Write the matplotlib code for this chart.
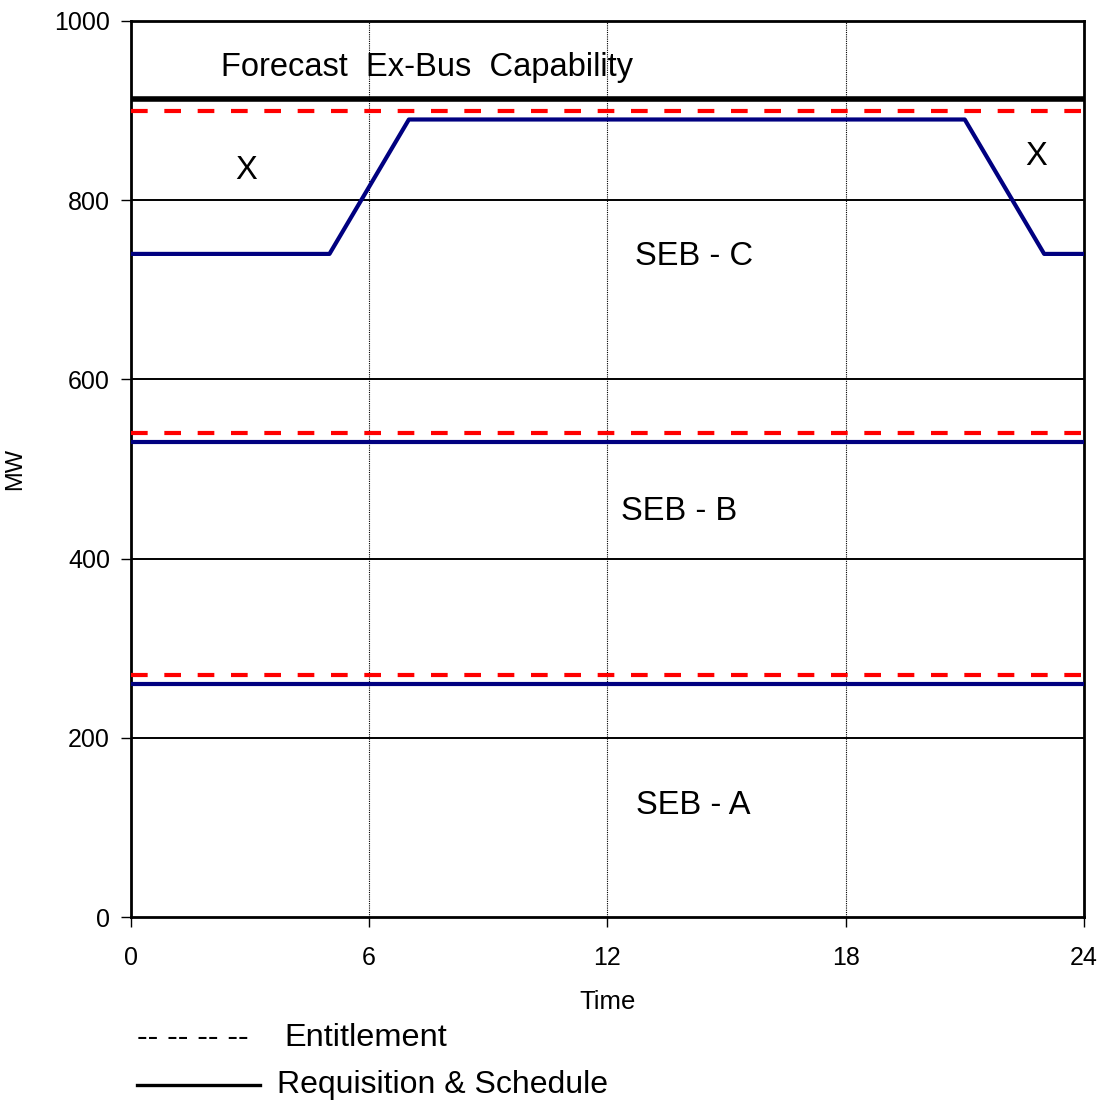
import numpy as np
import matplotlib
matplotlib.use('Agg')
import matplotlib.pyplot as plt

plt.rcParams['font.family'] = ['Liberation Sans', 'DejaVu Sans']

#datos
capacidad = 913
horas_c = [0, 5, 7, 21, 23, 24]
seb_c = [740, 740, 890, 890, 740, 740]
derecho_c = 900
seb_b = 530
derecho_b = 540
seb_a = 260
derecho_a = 270
x_ticks = [0, 6, 12, 18, 24]
y_ticks = [0, 200, 400, 600, 800, 1000]

fig = plt.figure(figsize=(11.07, 11.01), dpi=100)
ax = fig.add_axes([0.1183, 0.1671, 0.8608, 0.8139])

azul = '#000080'
rojo = '#ff0000'

#grilla
for y in [200, 400, 600, 800]:
    ax.axhline(y, color='black', lw=1.4, zorder=1)
for x in [6, 12, 18]:
    ax.axvline(x, color='black', lw=0.8, ls=(0, (1, 1)), zorder=1)

#lineas
ax.plot([0, 24], [capacidad, capacidad], color='black', lw=4, solid_capstyle='butt', zorder=3)
for d in [derecho_c, derecho_b, derecho_a]:
    ax.plot([0, 24], [d, d], color=rojo, lw=3, ls=(0, (4, 4)), zorder=3)
ax.plot(horas_c, seb_c, color=azul, lw=3, zorder=4)
ax.plot([0, 24], [seb_b, seb_b], color=azul, lw=3, zorder=4)
ax.plot([0, 24], [seb_a, seb_a], color=azul, lw=3, zorder=4)

#textos
fs = 23.5
ax.text(2.27, 948, 'Forecast  Ex-Bus  Capability', fontsize=fs, va='center', ha='left')
ax.text(2.9, 833, 'X', fontsize=fs, va='center', ha='center')
ax.text(22.8, 849, 'X', fontsize=fs, va='center', ha='center')
ax.text(14.18, 737, 'SEB - C', fontsize=fs, va='center', ha='center')
ax.text(13.8, 452, 'SEB - B', fontsize=fs, va='center', ha='center')
ax.text(14.16, 124, 'SEB - A', fontsize=fs, va='center', ha='center')

ax.set_xlim(0, 24)
ax.set_ylim(0, 1000)
ax.set_xticks(x_ticks)
ax.set_yticks(y_ticks)
ax.tick_params(axis='both', direction='out', length=7, width=1, labelsize=18)
ax.tick_params(axis='x', pad=14)
ax.tick_params(axis='y', pad=8)
for s in ax.spines.values():
    s.set_linewidth(2)
ax.set_xlabel('Time', fontsize=18.5, labelpad=14)
ax.set_ylabel('MW', fontsize=17, labelpad=20)

#leyenda
fig.text(137/1107, 1 - 1038/1101, '-- -- -- --', fontsize=23, va='center', ha='left')
fig.text(284/1107, 1 - 1038/1101, 'Entitlement', fontsize=23.4, va='center', ha='left')
fig.add_artist(plt.Line2D([137/1107, 260/1107], [1 - 1085/1101, 1 - 1085/1101], color='black', lw=2.4))
fig.text(277/1107, 1 - 1085/1101, 'Requisition & Schedule', fontsize=23, va='center', ha='left')

plt.savefig('out.png', dpi=100)
